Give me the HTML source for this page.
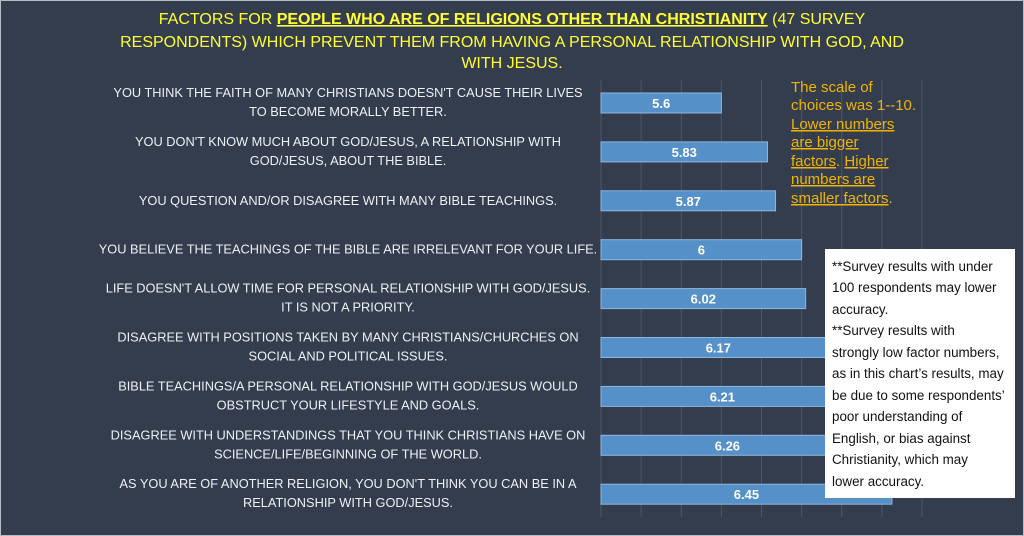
<!DOCTYPE html>
<html><head><meta charset="utf-8"><style>
html,body{margin:0;padding:0;background:#333d4e;}
svg{display:block;font-family:"Liberation Sans",sans-serif;}
</style></head><body>
<svg id="chart" width="1024" height="536" viewBox="0 0 1024 536" xmlns="http://www.w3.org/2000/svg">
<rect x="0" y="0" width="1024" height="536" fill="#333d4e"/>
<rect x="0.5" y="0.5" width="1023" height="535" fill="none" stroke="#b8bcc4" stroke-width="1"/>
<g fill="#ffff33" font-size="16" text-anchor="middle">
<text x="512" y="24">FACTORS FOR <tspan text-decoration="underline" font-weight="bold">PEOPLE WHO ARE OF RELIGIONS OTHER THAN CHRISTIANITY</tspan> (47 SURVEY</text>
<text x="512" y="47">RESPONDENTS) WHICH PREVENT THEM FROM HAVING A PERSONAL RELATIONSHIP WITH GOD, AND</text>
<text x="512" y="68">WITH JESUS.</text>
</g>
<g id="grid"></g>
<g id="bars"></g>
<g id="labels"></g>
<g fill="#f0b400" font-size="15">
<text x="791" y="92">The scale of</text>
<text x="791" y="110">choices was 1--10.</text>
<text x="791" y="129"><tspan text-decoration="underline">Lower numbers</tspan></text>
<text x="791" y="147"><tspan text-decoration="underline">are bigger</tspan></text>
<text x="791" y="166"><tspan text-decoration="underline">factors</tspan>. <tspan text-decoration="underline">Higher</tspan></text>
<text x="791" y="184"><tspan text-decoration="underline">numbers are</tspan></text>
<text x="791" y="203"><tspan text-decoration="underline">smaller factors</tspan>.</text>
</g>
<g>
<rect x="825" y="249" width="190" height="249" fill="#ffffff"/>
<g fill="#111" font-size="13.4">
<text x="832" y="271">**Survey results with under</text>
<text x="832" y="292">100 respondents may lower</text>
<text x="832" y="314">accuracy.</text>
<text x="832" y="335">**Survey results with</text>
<text x="832" y="357">strongly low factor numbers,</text>
<text x="832" y="378">as in this chart’s results, may</text>
<text x="832" y="400">be due to some respondents’</text>
<text x="832" y="421">poor understanding of</text>
<text x="832" y="443">English, or bias against</text>
<text x="832" y="464">Christianity, which may</text>
<text x="832" y="486">lower accuracy.</text>
</g>
</g>
</svg>
<script>
const categories = [
 ["YOU THINK THE FAITH OF MANY CHRISTIANS DOESN'T CAUSE THEIR LIVES","TO BECOME MORALLY BETTER."],
 ["YOU DON'T KNOW MUCH ABOUT GOD/JESUS, A RELATIONSHIP WITH","GOD/JESUS, ABOUT THE BIBLE."],
 ["YOU QUESTION AND/OR DISAGREE WITH MANY BIBLE TEACHINGS."],
 ["YOU BELIEVE THE TEACHINGS OF THE BIBLE ARE IRRELEVANT FOR YOUR LIFE."],
 ["LIFE DOESN'T ALLOW TIME FOR PERSONAL RELATIONSHIP WITH GOD/JESUS.","IT IS NOT A PRIORITY."],
 ["DISAGREE WITH POSITIONS TAKEN BY MANY CHRISTIANS/CHURCHES ON","SOCIAL AND POLITICAL ISSUES."],
 ["BIBLE TEACHINGS/A PERSONAL RELATIONSHIP WITH GOD/JESUS WOULD","OBSTRUCT YOUR LIFESTYLE AND GOALS."],
 ["DISAGREE WITH UNDERSTANDINGS THAT YOU THINK CHRISTIANS HAVE ON","SCIENCE/LIFE/BEGINNING OF THE WORLD."],
 ["AS YOU ARE OF ANOTHER RELIGION, YOU DON'T THINK YOU CAN BE IN A","RELATIONSHIP WITH GOD/JESUS."]
];
const values = [5.6, 5.83, 5.87, 6, 6.02, 6.17, 6.21, 6.26, 6.45];
const valueLabels = ["5.6","5.83","5.87","6","6.02","6.17","6.21","6.26","6.45"];
const gridTicks = [5,5.2,5.4,5.6,5.8,6,6.2,6.4,6.6];

const NS="http://www.w3.org/2000/svg";
const x0=601, x1=922, vMin=5, vMax=6.6;
const xs=v=>x0+(v-vMin)/(vMax-vMin)*(x1-x0);
const yTop=80, step=48.9, barH=20, firstBar=93;
const yc=i=>firstBar+i*step+barH/2;
function mk(t,a){const e=document.createElementNS(NS,t);for(const k in a)e.setAttribute(k,a[k]);return e;}
const grid=document.getElementById('grid'), bars=document.getElementById('bars'), labels=document.getElementById('labels');
gridTicks.forEach(t=>{
  const l=mk('line',{x1:xs(t),x2:xs(t),y1:yTop,y2:517,stroke:'#4d5666','stroke-width':1});
  
  
  grid.appendChild(l);
});
values.forEach((v,i)=>{
  const r=mk('rect',{x:x0,y:yc(i)-barH/2,width:xs(v)-x0,height:barH,fill:'#5690c8',stroke:'#8fb6de','stroke-width':1});
  
  
  bars.appendChild(r);
  const t=mk('text',{x:(x0+xs(v))/2,y:yc(i)+5,fill:'#ffffff','font-size':13,'font-weight':'bold','text-anchor':'middle'});
  t.textContent=valueLabels[i];
  
  
  bars.appendChild(t);
  const lines=categories[i];
  const g=mk('g',{});
  
  
  lines.forEach((s,j)=>{
    const yy=lines.length===2?(j===0?yc(i)-6:yc(i)+13):yc(i)+4;
    const tt=mk('text',{x:348,y:yy,fill:'#eef0f4','font-size':12.8,'text-anchor':'middle'});
    tt.textContent=s;
    g.appendChild(tt);
  });
  labels.appendChild(g);
});
</script>
</body></html>
